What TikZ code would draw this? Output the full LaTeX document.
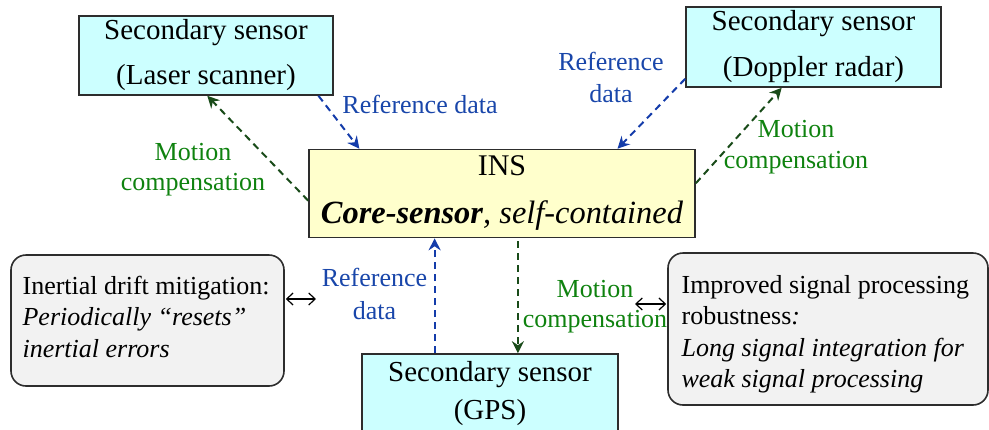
\documentclass[tikz,border=0pt]{standalone}
\usepackage{fontspec}
\setmainfont{Liberation Serif}
\usetikzlibrary{arrows.meta,calc}

\definecolor{sensorfill}{RGB}{204,255,255}
\definecolor{insfill}{RGB}{255,255,204}
\definecolor{notefill}{RGB}{242,242,242}
\definecolor{boxline}{RGB}{45,45,45}
\definecolor{reftext}{RGB}{25,70,170}
\definecolor{refline}{RGB}{20,60,170}
\definecolor{mottext}{RGB}{15,130,15}
\definecolor{motline}{RGB}{25,75,25}

\tikzset{
  boxbase/.style={draw=boxline, line width=0.8pt, inner sep=0pt, align=center},
  sensorbox/.style={boxbase, fill=sensorfill, minimum width=127.5pt, minimum height=40pt},
  insbox/.style={boxbase, fill=insfill},
  notebox/.style={draw=boxline, line width=0.8pt, fill=notefill, rounded corners=7.5pt,
    inner sep=0pt},
  notetext/.style={align=left, inner sep=0pt, font=\fontsize{13}{15.75}\selectfont},
  reflabel/.style={text=reftext, align=center, inner sep=0pt},
  motlabel/.style={text=mottext, align=center, inner sep=0pt},
  dashbase/.style={line width=1pt, dash pattern=on 3.5pt off 2.5pt},
  refarrow/.style={dashbase, draw=refline,
    -{Stealth[length=6pt,width=6pt,inset=2pt]}},
  motarrow/.style={dashbase, draw=motline,
    -{Stealth[length=6pt,width=6pt,inset=2pt]}},
  linkarrow/.style={draw=black, line width=0.6pt,
    {Straight Barb[length=3.2pt,width=6pt]}-{Straight Barb[length=3.2pt,width=6pt]}}
}

\begin{document}
\begin{tikzpicture}[x=0.5pt, y=-0.5pt]
\useasboundingbox (0,0) rectangle (989,429);

% sensor boxes
\node[sensorbox, minimum width=127pt, minimum height=39.5pt,
      font=\fontsize{14.5}{22.5}\selectfont] (laser) at (206,55.5)
  {Secondary sensor\\(Laser scanner)};
\node[sensorbox, minimum width=127.5pt, minimum height=40pt,
      font=\fontsize{14.5}{23}\selectfont] (doppler) at (813.5,47)
  {Secondary sensor\\(Doppler radar)};
\node[insbox, minimum width=193pt, minimum height=44pt,
      font=\fontsize{15}{24}\selectfont] (ins) at (502,193.5)
  {INS\\\fontsize{16.2}{24}\selectfont\textbf{\textit{Core-sensor}}\textit{, self-contained}};
\node[sensorbox, minimum width=128pt, minimum height=40pt,
      font=\fontsize{14.5}{19}\selectfont] (gps) at (490,394)
  {Secondary sensor\\(GPS)};

% note boxes
\node[notebox, minimum width=136.5pt, minimum height=65.5pt] (drift) at (147.5,320.5) {};
\node[notetext, anchor=west] (drifttext) at ([xshift=6pt,yshift=2pt]drift.west)
  {Inertial drift mitigation:\\\textit{Periodically ``resets''}\\\textit{inertial errors}};
\node[notebox, minimum width=160pt, minimum height=76pt] (signal) at (828,329) {};
\node[notetext, anchor=west] (signaltext) at ([xshift=7pt,yshift=-2.5pt]signal.west)
  {Improved signal processing\\robustness\textit{:}\\\textit{Long signal integration for}\\\textit{weak signal processing}};

% connector labels
\node[reflabel, font=\fontsize{13}{16}\selectfont] (lref) at (420,104) {Reference data};
\node[motlabel, font=\fontsize{13}{15}\selectfont] (lmot) at (193,170) {Motion\\compensation};
\node[reflabel, font=\fontsize{13}{16}\selectfont] (dref) at (611,77) {Reference\\data};
\node[motlabel, font=\fontsize{13}{15.5}\selectfont] (dmot) at (796,147.5) {Motion\\compensation};
\node[reflabel, font=\fontsize{13}{16.5}\selectfont] (gref) at (374.5,293.5) {Reference\\data};
\node[motlabel, font=\fontsize{13}{15}\selectfont] (gmot) at (595,307) {Motion\\compensation};

% laser scanner links
\draw[refarrow] ($(laser.south west)!0.94!(laser.south east)$)
  -- ($(ins.north west)!0.132!(ins.north east)$);
\draw[motarrow] ($(ins.north west)!0.58!(ins.south west)$)
  -- ($(laser.south west)!0.505!(laser.south east)$);

% Doppler radar links
\draw[refarrow] ($(doppler.north west)!0.89!(doppler.south west)$)
  -- ($(ins.north west)!0.798!(ins.north east)$);
\draw[motarrow] ($(ins.north east)!0.386!(ins.south east)$)
  -- ($(doppler.south west)!0.376!(doppler.south east)$);

% GPS links
\coordinate (gpsref) at ($(gps.north west)!0.285!(gps.north east)$);
\draw[refarrow] (gpsref) -- (gpsref |- ins.south);
\coordinate (gpsmot) at ($(ins.south west)!0.541!(ins.south east)$);
\draw[motarrow] ([yshift=-1.5pt]gpsmot) -- (gpsmot |- gps.north);

% links from the note boxes
\coordinate (driftend) at (316,299);
\draw[linkarrow] (drift.east |- driftend) ++(0.5pt,0) -- (driftend);
\coordinate (signalend) at (635,304);
\draw[linkarrow] (signalend) -- ([xshift=-0.5pt]signal.west |- signalend);
\end{tikzpicture}
\end{document}
